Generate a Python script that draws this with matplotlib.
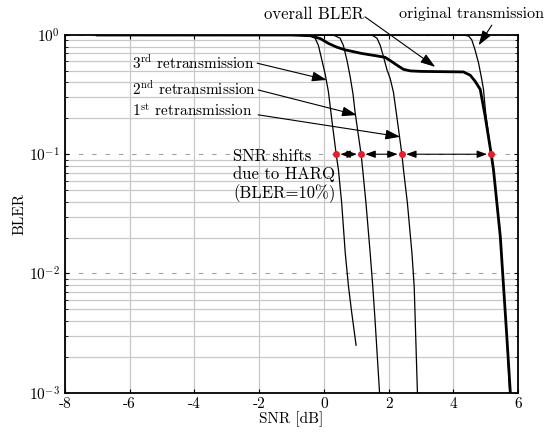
import matplotlib
matplotlib.use("Agg")
import matplotlib.pyplot as plt

plt.rcParams["font.family"] = ["cmr10", "DejaVu Serif"]
plt.rcParams["mathtext.fontset"] = "cm"
plt.rcParams["axes.formatter.use_mathtext"] = True

# curves (SNR in dB, BLER)
snr_orig = [-7.0, 4.30, 4.47, 4.57, 4.67, 4.78, 4.88, 4.93, 5.00, 5.17, 5.24, 5.45, 5.55, 5.65, 5.74]
bler_orig = [1.0, 1.0, 0.98, 0.91, 0.75, 0.58, 0.42, 0.35, 0.22, 0.1, 0.074, 0.0204, 0.0078, 0.003, 0.001]

snr_re1 = [-7.0, 1.48, 1.64, 1.74, 1.84, 1.95, 2.05, 2.15, 2.25, 2.41, 2.46, 2.58, 2.72, 2.79, 2.89]
bler_re1 = [1.0, 1.0, 0.94, 0.82, 0.66, 0.51, 0.43, 0.33, 0.21, 0.1, 0.074, 0.039, 0.0149, 0.0078, 0.001]

snr_re2 = [-7.0, 0.29, 0.50, 0.60, 0.71, 0.81, 0.90, 0.96, 1.02, 1.15, 1.20, 1.30, 1.43, 1.51, 1.58, 1.72]
bler_re2 = [1.0, 1.0, 0.94, 0.82, 0.62, 0.45, 0.32, 0.23, 0.176, 0.1, 0.074, 0.039, 0.0149, 0.0078, 0.0041, 0.001]

snr_re3 = [-7.0, -0.48, -0.27, -0.17, -0.07, 0.04, 0.14, 0.24, 0.38, 0.45, 0.55, 0.66, 0.76, 0.86, 0.995]
bler_re3 = [1.0, 1.0, 0.94, 0.82, 0.63, 0.47, 0.335, 0.20, 0.1, 0.074, 0.039, 0.0149, 0.0078, 0.0047, 0.0025]

snr_all = [-7.0, -1.0, -0.4, -0.1, 0.14, 0.40, 0.66, 1.17, 1.60, 1.89, 2.05, 2.25, 2.46, 2.67, 3.0,
           4.31, 4.52, 4.67, 4.83, 4.98, 5.17, 5.24, 5.45, 5.55, 5.65, 5.76]
bler_all = [1.0, 1.0, 0.985, 0.93, 0.85, 0.79, 0.75, 0.70, 0.67, 0.65, 0.61, 0.56, 0.515, 0.50, 0.495,
            0.49, 0.46, 0.41, 0.35, 0.21, 0.1, 0.074, 0.0204, 0.0078, 0.003, 0.001]

# SNR where each curve crosses BLER = 10%
snr_at_10 = [0.38, 1.15, 2.41, 5.17]

x_ticks = [-8, -6, -4, -2, 0, 2, 4, 6]
x_tick_labels = ["-8", "-6", "-4", "-2", "0", "2", "4", "6"]
y_ticks = [1e-3, 1e-2, 1e-1, 1e0]
y_tick_labels = [r"$10^{-3}$", r"$10^{-2}$", r"$10^{-1}$", r"$10^{0}$"]

fig = plt.figure(figsize=(5.5, 4.32), dpi=100)
ax = fig.add_axes([0.118, 0.091, 0.824, 0.828])

ax.set_yscale("log")
ax.set_xlim(-8, 6)
ax.set_ylim(1e-3, 1)

# grid
ax.grid(True, which="minor", axis="y", color="#c8c8c8", linewidth=0.9, linestyle="-")
ax.grid(True, which="major", axis="x", color="#c8c8c8", linewidth=0.9, linestyle="-")
ax.grid(True, which="major", axis="y", color="#a0a0a0", linewidth=0.8, linestyle=(0, (4, 8)))
ax.set_axisbelow(True)

ax.plot(snr_orig, bler_orig, color="black", lw=0.9)
ax.plot(snr_re1, bler_re1, color="black", lw=0.9)
ax.plot(snr_re2, bler_re2, color="black", lw=0.9)
ax.plot(snr_re3, bler_re3, color="black", lw=0.9)
ax.plot(snr_all, bler_all, color="black", lw=2.0)

ax.set_xticks(x_ticks)
ax.set_xticklabels(x_tick_labels)
ax.set_yticks(y_ticks)
ax.set_yticklabels(y_tick_labels)
ax.tick_params(which="both", direction="in", top=True, right=True, labelsize=11)
ax.tick_params(which="major", length=3)
ax.tick_params(which="minor", length=2)
for s in ax.spines.values():
    s.set_linewidth(1.3)

ax.set_xlabel("SNR [dB]", fontsize=11, labelpad=0)
ax.set_ylabel("BLER", fontsize=11, labelpad=2)

# arrows between BLER=10% points
for a, b in zip(snr_at_10[:-1], snr_at_10[1:]):
    ax.annotate("", xy=(b, 0.1), xytext=(a, 0.1),
                arrowprops=dict(arrowstyle="<|-|>,head_length=0.6,head_width=0.22",
                                color="black", lw=0.8, shrinkA=3, shrinkB=3,
                                mutation_scale=10))
ax.plot(snr_at_10, [0.1] * len(snr_at_10), "o", color="#ee1c24", ms=4, zorder=5)

arrow_kw = dict(arrowstyle="-|>,head_length=0.9,head_width=0.3", color="black",
                lw=0.8, shrinkA=0, shrinkB=0, mutation_scale=10)

ax.text(-5.94, 0.586, r"3$^{\rm rd}$ retransmission", fontsize=11, va="center")
ax.text(-5.94, 0.351, r"2$^{\rm nd}$ retransmission", fontsize=11, va="center")
ax.text(-5.94, 0.231, r"1$^{\rm st}$ retransmission", fontsize=11, va="center")
ax.annotate("", xy=(0.09, 0.42), xytext=(-2.06, 0.58), arrowprops=arrow_kw)
ax.annotate("", xy=(1.02, 0.213), xytext=(-2.03, 0.346), arrowprops=arrow_kw)
ax.annotate("", xy=(2.36, 0.14), xytext=(-2.03, 0.214), arrowprops=arrow_kw)

ax.text(-2.81, 0.0658, "SNR shifts\ndue to HARQ\n(BLER=10%)", fontsize=12, va="center",
        ha="left", linespacing=1.15)

ax.text(1.25, 1.5, "overall BLER", fontsize=12, ha="right", va="center", clip_on=False)
ax.annotate("", xy=(3.44, 0.54), xytext=(1.27, 1.42), arrowprops=arrow_kw,
            annotation_clip=False)
ax.text(4.55, 1.5, "original transmission", fontsize=11.5, ha="center", va="center",
        clip_on=False)
ax.annotate("", xy=(4.78, 0.82), xytext=(5.19, 1.21), arrowprops=arrow_kw,
            annotation_clip=False)

fig.savefig("out.png", dpi=100)
